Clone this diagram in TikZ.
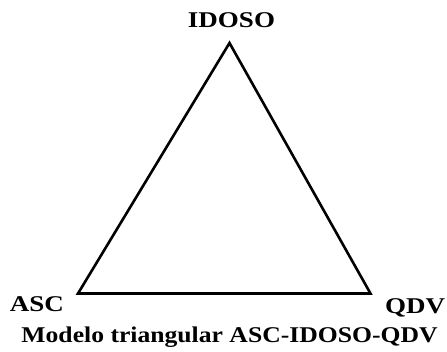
\documentclass[tikz,border=0pt]{standalone}
\usepackage{fontspec}
\newfontfamily\lblfont[FakeStretch=1.2]{Liberation Serif}
\newfontfamily\capfont[FakeStretch=1.14]{Liberation Serif}
\begin{document}
\begin{tikzpicture}[x=1pt,y=-1pt,
  lbl/.style={font=\lblfont\fontsize{22.5}{26}\selectfont\bfseries, inner sep=0pt, anchor=base},
  captionstyle/.style={font=\capfont\fontsize{22.5}{26}\selectfont\bfseries, inner sep=0pt, anchor=base}]
\useasboundingbox (0,0) rectangle (447,351);
\coordinate (A) at (229.5,43);
\coordinate (L) at (78,293.5);
\coordinate (R) at (370.5,293.5);
\draw[line width=2.6pt, line join=miter] (A) -- (L) -- (R) -- cycle;
\node[lbl] (idoso) at (231.5,27.3) {IDOSO};
\node[lbl] (asc) at (37,311) {ASC};
\node[lbl] (qdv) at (415,313) {QDV};
\node[captionstyle] (caption) at (229.5,342) {Modelo triangular ASC-IDOSO-QDV};
\end{tikzpicture}
\end{document}
